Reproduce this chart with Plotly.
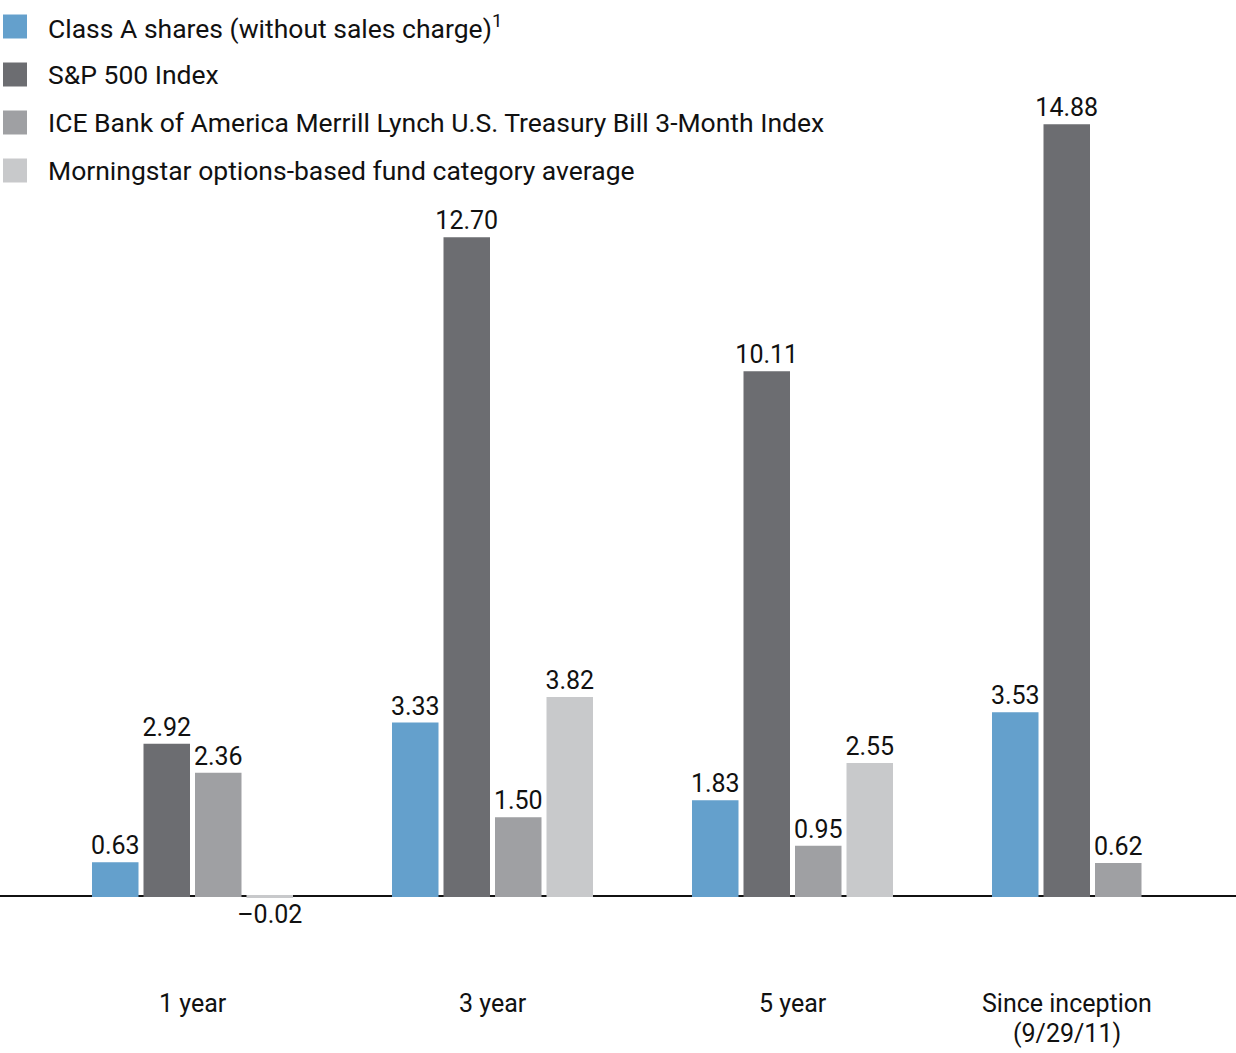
import plotly.graph_objects as go

categories = ["1 year", "3 year", "5 year", "Since inception\n(9/29/11)"]
series_names = [
    "Class A shares (without sales charge)<sup>1</sup>",
    "S&P 500 Index",
    "ICE Bank of America Merrill Lynch U.S. Treasury Bill 3-Month Index",
    "Morningstar options-based fund category average",
]
class_a = [0.63, 3.33, 1.83, 3.53]
sp500 = [2.92, 12.70, 10.11, 14.88]
tbill = [2.36, 1.50, 0.95, 0.62]
morningstar = [-0.02, 3.82, 2.55, None]
colors = ["#64A0CC", "#6C6D71", "#9FA0A3", "#C8C9CB"]

all_series = [class_a, sp500, tbill, morningstar]

W, H = 1236, 1053
FONT = "Roboto, Arial, sans-serif"

zero_px = 896.0
ppu = 51.8
y_top = zero_px / ppu
y_bot = -(H - zero_px) / ppu

group_px = 300.0
first_center_px = 192.5
x_lo = -first_center_px / group_px
x_hi = (W - first_center_px) / group_px

n = len(all_series)
bar_pitch = 51.5 / group_px
line_w = 2.0
bar_w = (46.5 - line_w) / group_px

def fmt(v):
    s = f"{abs(v):.2f}"
    return ("\u2013" + s) if v < 0 else s

fig = go.Figure()
for i, (vals, name, col) in enumerate(zip(all_series, series_names, colors)):
    offset = (i - (n - 1) / 2) * bar_pitch
    pts = [(k + offset, v) for k, v in enumerate(vals) if v is not None]
    fig.add_trace(go.Bar(
        x=[p[0] for p in pts], y=[p[1] for p in pts], width=bar_w, name=name,
        marker=dict(color=col, line=dict(width=line_w, color=col)),
        text=[fmt(p[1]) for p in pts], textposition="outside",
        textfont=dict(family=FONT, size=25, color="#111111"),
        constraintext="none", cliponaxis=False, showlegend=False,
    ))

annotations = []
shapes = []
# category labels
for k, cat in enumerate(categories):
    present = [i for i in range(n) if all_series[i][k] is not None]
    cx = k + sum((i - (n - 1) / 2) * bar_pitch for i in present) / len(present)
    for j, line in enumerate(cat.split("\n")):
        ypx = 1003 + 30 * j
        annotations.append(dict(
            x=cx, y=(zero_px - ypx) / ppu, xref="x", yref="y",
            text=line, showarrow=False, xanchor="center", yanchor="middle",
            font=dict(family=FONT, size=25, color="#111111"),
        ))

# legend
for i, (name, col) in enumerate(zip(series_names, colors)):
    cy = 26.5 + 48 * i
    shapes.append(dict(
        type="rect", xref="paper", yref="paper",
        x0=3 / W, x1=27 / W, y0=1 - (cy - 12) / H, y1=1 - (cy + 12) / H,
        fillcolor=col, line=dict(width=0),
    ))
    annotations.append(dict(
        x=46 / W, y=1 - cy / H, xref="paper", yref="paper",
        text=name, showarrow=False, xanchor="left", yanchor="middle",
        font=dict(family=FONT, size=26.5, color="#111111"),
    ))

fig.update_layout(
    width=W, height=H,
    margin=dict(l=0, r=0, t=0, b=0),
    paper_bgcolor="white", plot_bgcolor="white",
    barmode="overlay",
    xaxis=dict(range=[x_lo, x_hi], visible=False, fixedrange=True),
    yaxis=dict(range=[y_bot, y_top], showgrid=False, showticklabels=False,
               zeroline=True, zerolinecolor="#111111", zerolinewidth=1.6,
               fixedrange=True),
    annotations=annotations, shapes=shapes,
    showlegend=False,
)
fig.write_html(
    "out.html",
    config={"displayModeBar": False},
    post_script="document.body.style.margin='0';document.body.style.overflow='hidden';",
)
